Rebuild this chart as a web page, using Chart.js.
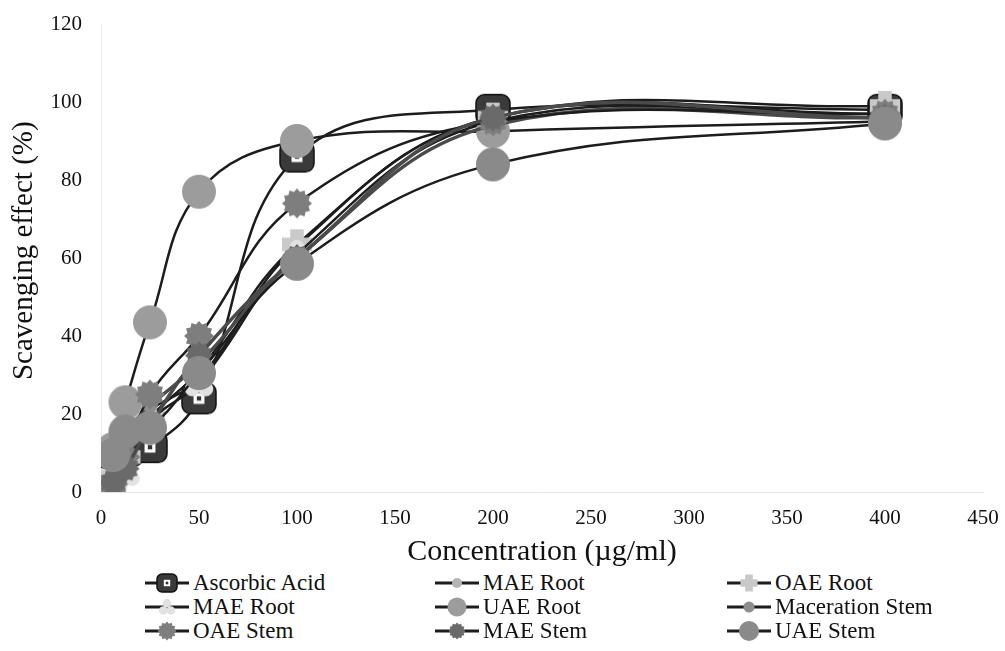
<!DOCTYPE html>
<html>
<head>
<meta charset="utf-8">
<script src="https://cdn.jsdelivr.net/npm/chart.js@4.4.1/dist/chart.umd.min.js"></script>
<style>
  html, body { margin: 0; padding: 0; background: #fff; }
  #wrap { position: relative; width: 1005px; height: 651px; overflow: hidden; }
  #chart { position: absolute; left: 0; top: 0; }
  .leg { position: absolute; display: flex; align-items: center; height: 24px;
         font-family: "Liberation Serif", "Times New Roman", serif; font-size: 23px;
         color: #111; white-space: nowrap; }
  .leg canvas { margin-right: 2px; }
</style>
</head>
<body>
<div id="wrap">
  <canvas id="chart" width="1005" height="570"></canvas>
  <div id="legend"></div>
</div>
<script>
// concentrations (µg/ml)
const concentrations = [6.25, 12.5, 25, 50, 100, 200, 400];

// scavenging effect (%) per extract
const ascorbicAcid   = [10, 10.5, 11.5, 24, 86, 98, 98];
const maeRoot        = [7, 14, 21, 29, 63, 96, 97];
const oaeRoot        = [4, 9, 19, 31, 63.5, 96, 99];
const maeRoot2       = [3, 5, 18, 28, 61, 95, 96];
const uaeRoot        = [11, 23, 43.5, 77, 90, 92.5, 95];
const macerationStem = [8, 15, 22, 33, 60, 94, 96];
const oaeStem        = [2, 9, 25, 40, 74, 95, 97];
const maeStem        = [2.5, 6, 17, 35, 60, 96, 96];
const uaeStem        = [9.5, 15.5, 16.5, 30.5, 58.5, 84, 94.5];

const seriesNames = ['Ascorbic Acid', 'MAE Root', 'OAE Root', 'MAE Root', 'UAE Root',
                     'Maceration Stem', 'OAE Stem', 'MAE Stem', 'UAE Stem'];
const seriesValues = [ascorbicAcid, maeRoot, oaeRoot, maeRoot2, uaeRoot,
                      macerationStem, oaeStem, maeStem, uaeStem];

const xTicks = [0, 50, 100, 150, 200, 250, 300, 350, 400, 450];
const yTicks = [0, 20, 40, 60, 80, 100, 120];

// marker look for each series: [shape, plot size, legend size, fill, edge]
const markerLook = [
  ['square',   34, 20, '#3a3a3a', '#111'],
  ['circle',   14, 10, '#b4b4b4', null],
  ['cross',    30, 17, '#c9c9c9', null],
  ['triangle', 30, 17, '#e2e2e2', null],
  ['circle',   34, 19, '#9c9c9c', null],
  ['circle',   14, 11, '#8e8e8e', null],
  ['star',     30, 19, '#7e7e7e', null],
  ['star',     28, 17, '#6a6a6a', null],
  ['circle',   34, 20, '#8a8a8a', null]
];

function drawShape(ctx, kind, cx, cy, size, fill, edge) {
  const r = size / 2;
  ctx.fillStyle = fill;
  ctx.beginPath();
  if (kind === 'circle') {
    ctx.arc(cx, cy, r, 0, Math.PI * 2);
  } else if (kind === 'square') {
    const w = size, h = size * 0.9, k = size * 0.25;
    const x = cx - w / 2, y = cy - h / 2;
    ctx.moveTo(x + k, y);
    ctx.arcTo(x + w, y, x + w, y + h, k);
    ctx.arcTo(x + w, y + h, x, y + h, k);
    ctx.arcTo(x, y + h, x, y, k);
    ctx.arcTo(x, y, x + w, y, k);
    ctx.closePath();
  } else if (kind === 'star') {
    const n = 12;
    for (let i = 0; i < n * 2; i++) {
      const a = (Math.PI * i) / n;
      const rr = i % 2 === 0 ? r : r * 0.8;
      ctx.lineTo(cx + rr * Math.cos(a), cy + rr * Math.sin(a));
    }
    ctx.closePath();
  } else if (kind === 'cross') {
    const a = r * 0.45;
    ctx.moveTo(cx - a, cy - r); ctx.lineTo(cx + a, cy - r); ctx.lineTo(cx + a, cy - a);
    ctx.lineTo(cx + r, cy - a); ctx.lineTo(cx + r, cy + a); ctx.lineTo(cx + a, cy + a);
    ctx.lineTo(cx + a, cy + r); ctx.lineTo(cx - a, cy + r); ctx.lineTo(cx - a, cy + a);
    ctx.lineTo(cx - r, cy + a); ctx.lineTo(cx - r, cy - a); ctx.lineTo(cx - a, cy - a);
    ctx.closePath();
  } else if (kind === 'triangle') {
    ctx.arc(cx, cy - r * 0.45, r * 0.5, 0, Math.PI * 2);
    ctx.moveTo(cx - r * 0.05, cy + r * 0.4);
    ctx.arc(cx - r * 0.45, cy + r * 0.4, r * 0.5, 0, Math.PI * 2);
    ctx.moveTo(cx + r * 0.95, cy + r * 0.4);
    ctx.arc(cx + r * 0.45, cy + r * 0.4, r * 0.5, 0, Math.PI * 2);
  }
  ctx.fill();
  if (edge) { ctx.strokeStyle = edge; ctx.lineWidth = 1.5; ctx.stroke(); }
  if (kind === 'square') {
    const s = size * 0.32;
    ctx.fillStyle = '#fff';
    ctx.fillRect(cx - s / 2, cy - s / 2, s, s);
    ctx.fillStyle = '#333';
    ctx.fillRect(cx - s / 5, cy - s / 5, s / 2.5, s / 2.5);
  }
}

function markerCanvas(look) {
  const c = document.createElement('canvas');
  c.width = look[1] + 4; c.height = look[1] + 4;
  drawShape(c.getContext('2d'), look[0], c.width / 2, c.height / 2, look[1], look[3], look[4]);
  return c;
}

const datasets = seriesValues.map((vals, i) => ({
  label: seriesNames[i],
  data: vals.map((v, j) => ({ x: concentrations[j], y: v })),
  borderColor: i === 7 || i === 5 ? '#4a4a4a' : '#1c1c1c',
  borderWidth: i === 7 || i === 5 ? 3.5 : 2.5,
  tension: 0.4,
  pointStyle: markerCanvas(markerLook[i]),
  pointRadius: 10,
  order: seriesValues.length - i
}));

new Chart(document.getElementById('chart'), {
  type: 'line',
  data: { datasets: datasets },
  options: {
    responsive: false,
    animation: false,
    layout: { padding: { top: 24, right: 22, left: 0, bottom: 0 } },
    plugins: { legend: { display: false }, tooltip: { enabled: false } },
    scales: {
      x: {
        type: 'linear', min: 0, max: 450,
        afterBuildTicks: s => { s.ticks = xTicks.map(v => ({ value: v })); },
        afterFit: s => { s.height = 78; s.paddingLeft = 0; s.paddingRight = 0; },
        grid: { display: false, drawTicks: false },
        border: { color: '#e2e2e2', width: 1 },
        ticks: { color: '#111', padding: 14, font: { family: 'Liberation Serif', size: 21 } },
        title: { display: true, text: 'Concentration (µg/ml)', color: '#111',
                 padding: { top: 0, bottom: 0 }, font: { family: 'Liberation Serif', size: 30 } }
      },
      y: {
        min: 0, max: 120,
        afterBuildTicks: s => { s.ticks = yTicks.map(v => ({ value: v })); },
        afterFit: s => { s.width = 101; s.paddingTop = 0; s.paddingBottom = 0; },
        grid: { display: false, drawTicks: false },
        border: { color: '#ececec', width: 1 },
        ticks: { color: '#111', padding: 19, font: { family: 'Liberation Serif', size: 21 } },
        // two leading no-break spaces nudge the rotated title up a little
        title: { display: true, text: '\u00a0\u00a0Scavenging effect (%)', color: '#111',
                 padding: { top: 7, bottom: 0 }, font: { family: 'Liberation Serif', size: 29 } }
      }
    }
  }
});

// legend: 3 columns x 3 rows, line-marker-line swatches
const legendCols = [143, 433, 725];
const legendRows = [571, 595, 619];
const legend = document.getElementById('legend');
seriesNames.forEach((name, i) => {
  const item = document.createElement('div');
  item.className = 'leg';
  item.style.left = legendCols[i % 3] + 'px';
  item.style.top = legendRows[Math.floor(i / 3)] + 'px';
  const sw = document.createElement('canvas');
  sw.width = 48; sw.height = 24;
  const ctx = sw.getContext('2d');
  ctx.strokeStyle = '#1c1c1c'; ctx.lineWidth = 3;
  ctx.beginPath(); ctx.moveTo(2, 12); ctx.lineTo(46, 12); ctx.stroke();
  const look = markerLook[i];
  drawShape(ctx, look[0], 24, 12, look[2], look[3], look[4]);
  item.appendChild(sw);
  const t = document.createElement('span');
  t.textContent = name;
  item.appendChild(t);
  legend.appendChild(item);
});
</script>
</body>
</html>
